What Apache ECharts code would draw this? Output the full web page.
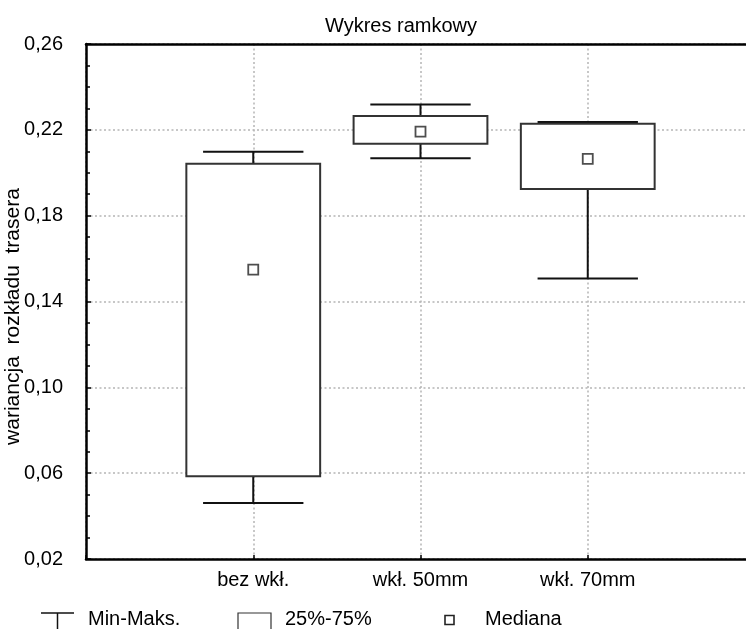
<!DOCTYPE html>
<html>
<head>
<meta charset="utf-8">
<script src="https://cdn.jsdelivr.net/npm/echarts@6/dist/echarts.min.js"></script>
<style>
html,body{margin:0;padding:0;background:#fff;}
#c{width:746px;height:629px;}
</style>
</head>
<body>
<div id="c"></div>
<script>
// ---- data ----
const categories = ['bez wkł.', 'wkł. 50mm', 'wkł. 70mm'];
const minVals    = [0.0461, 0.2067, 0.1507];
const q1Vals     = [0.0586, 0.2135, 0.1924];
const medVals    = [0.1549, 0.2192, 0.2065];
const q3Vals     = [0.2042, 0.2265, 0.2228];
const maxVals    = [0.2098, 0.2318, 0.2237];
const yTicks     = [0.02, 0.06, 0.10, 0.14, 0.18, 0.22, 0.26];
const legendNames = ['Min-Maks.', '25%-75%', 'Mediana'];

const FONT = '"Liberation Sans", Arial, sans-serif';
const FS = 20;

const whiskerData = categories.map((c, i) => [i + 1, minVals[i], q1Vals[i], q3Vals[i], maxVals[i]]);
const boxData = categories.map((c, i) => [i + 1, q1Vals[i], q3Vals[i]]);
const medData = categories.map((c, i) => [i + 1, medVals[i]]);

const chart = echarts.init(document.getElementById('c'), null, {renderer: 'canvas'});

const gridLine = {show: true, lineStyle: {color: '#b5b5b5', width: 1.5, type: [2, 2.5]}};

const option = {
  animation: false,
  backgroundColor: '#fff',
  title: {
    text: 'Wykres ramkowy',
    left: 320, top: 11,
    textStyle: {fontFamily: FONT, fontSize: FS, fontWeight: 'normal', color: '#000'}
  },
  grid: {
    left: 86, top: 44, right: -9, bottom: 70,
    containLabel: false, outerBoundsMode: 'none', show: false
  },
  xAxis: [{
    type: 'value', min: 0, max: 4, interval: 1,
    axisLine: {show: true, lineStyle: {color: '#000', width: 2.5}},
    axisTick: {show: true, inside: true, length: 4, lineStyle: {color: '#000', width: 1.5}},
    axisLabel: {
      margin: 11, fontFamily: FONT, fontSize: FS, color: '#000',
      formatter: v => categories[v - 1] || ''
    },
    splitLine: gridLine
  }, {
    type: 'value', position: 'top', min: 0, max: 4, interval: 1,
    axisLine: {show: true, onZero: false, lineStyle: {color: '#000', width: 2.5}},
    axisTick: {show: false}, axisLabel: {show: false}, splitLine: {show: false}
  }],
  yAxis: {
    type: 'value', min: yTicks[0], max: yTicks[yTicks.length - 1], interval: 0.04,
    name: 'wariancja  rozkładu  trasera',
    nameLocation: 'middle', nameGap: 62, nameRotate: 90, nameMoveOverlap: false,
    nameTextStyle: {fontFamily: FONT, fontSize: 21, color: '#000', padding: [0, 30, 0, 0]},
    axisLine: {show: true, lineStyle: {color: '#000', width: 2.5}},
    axisTick: {show: true, inside: true, length: 5, lineStyle: {color: '#000', width: 1.5}},
    minorTick: {show: true, splitNumber: 4, length: 4, lineStyle: {color: '#000', width: 1.5}},
    axisLabel: {
      margin: 23, fontFamily: FONT, fontSize: FS, color: '#000',
      formatter: v => {
        const t = yTicks.find(k => Math.abs(k - v) < 1e-6);
        return t === undefined ? '' : t.toFixed(2).replace('.', ',');
      }
    },
    splitLine: gridLine
  },
  series: [
    {
      name: legendNames[0], type: 'custom', data: whiskerData, xAxisIndex: 0,
      encode: {x: 0, y: [1, 2, 3, 4]}, z: 3,
      renderItem: (params, api) => {
        const x = api.value(0);
        const pMin = api.coord([x, api.value(1)]);
        const pQ1 = api.coord([x, api.value(2)]);
        const pQ3 = api.coord([x, api.value(3)]);
        const pMax = api.coord([x, api.value(4)]);
        const h = api.size([0.3, 0])[0];
        const st = {stroke: '#111', lineWidth: 2};
        return {type: 'group', children: [
          {type: 'line', shape: {x1: pMax[0] - h, y1: pMax[1], x2: pMax[0] + h, y2: pMax[1]}, style: st},
          {type: 'line', shape: {x1: pMax[0], y1: pMax[1], x2: pQ3[0], y2: pQ3[1]}, style: st},
          {type: 'line', shape: {x1: pQ1[0], y1: pQ1[1], x2: pMin[0], y2: pMin[1]}, style: st},
          {type: 'line', shape: {x1: pMin[0] - h, y1: pMin[1], x2: pMin[0] + h, y2: pMin[1]}, style: st}
        ]};
      }
    },
    {
      name: legendNames[1], type: 'custom', data: boxData, xAxisIndex: 0,
      encode: {x: 0, y: [1, 2]}, z: 4,
      renderItem: (params, api) => {
        const x = api.value(0);
        const pQ1 = api.coord([x, api.value(1)]);
        const pQ3 = api.coord([x, api.value(2)]);
        const h = api.size([0.4, 0])[0];
        return {type: 'rect',
          shape: {x: pQ3[0] - h, y: pQ3[1], width: 2 * h, height: pQ1[1] - pQ3[1]},
          style: {fill: '#fff', stroke: '#333', lineWidth: 2}};
      }
    },
    {
      name: legendNames[2], type: 'scatter', data: medData, z: 5, xAxisIndex: 0,
      symbol: 'rect', symbolSize: 10,
      itemStyle: {color: '#fff', borderColor: '#222', borderWidth: 1.8}
    }
  ],
  graphic: [
    // legend: Min-Maks.
    {type: 'line', shape: {x1: 41, y1: 613, x2: 74, y2: 613}, style: {stroke: '#111', lineWidth: 1.5}},
    {type: 'line', shape: {x1: 57.5, y1: 613, x2: 57.5, y2: 632}, style: {stroke: '#111', lineWidth: 1.5}},
    {type: 'text', left: 88, top: 609, style: {text: legendNames[0], font: FS + 'px ' + FONT, fill: '#000'}},
    // legend: 25%-75%
    {type: 'polyline', shape: {points: [[238, 632], [238, 613], [271, 613], [271, 632]]}, style: {stroke: '#333', lineWidth: 1.2, fill: 'none'}},
    {type: 'text', left: 285, top: 609, style: {text: legendNames[1], font: FS + 'px ' + FONT, fill: '#000'}},
    // legend: Mediana
    {type: 'rect', shape: {x: 445, y: 615.5, width: 9, height: 9}, style: {fill: '#fff', stroke: '#222', lineWidth: 1.6}},
    {type: 'text', left: 485, top: 609, style: {text: legendNames[2], font: FS + 'px ' + FONT, fill: '#000'}}
  ]
};
chart.setOption(option);
</script>
</body>
</html>
